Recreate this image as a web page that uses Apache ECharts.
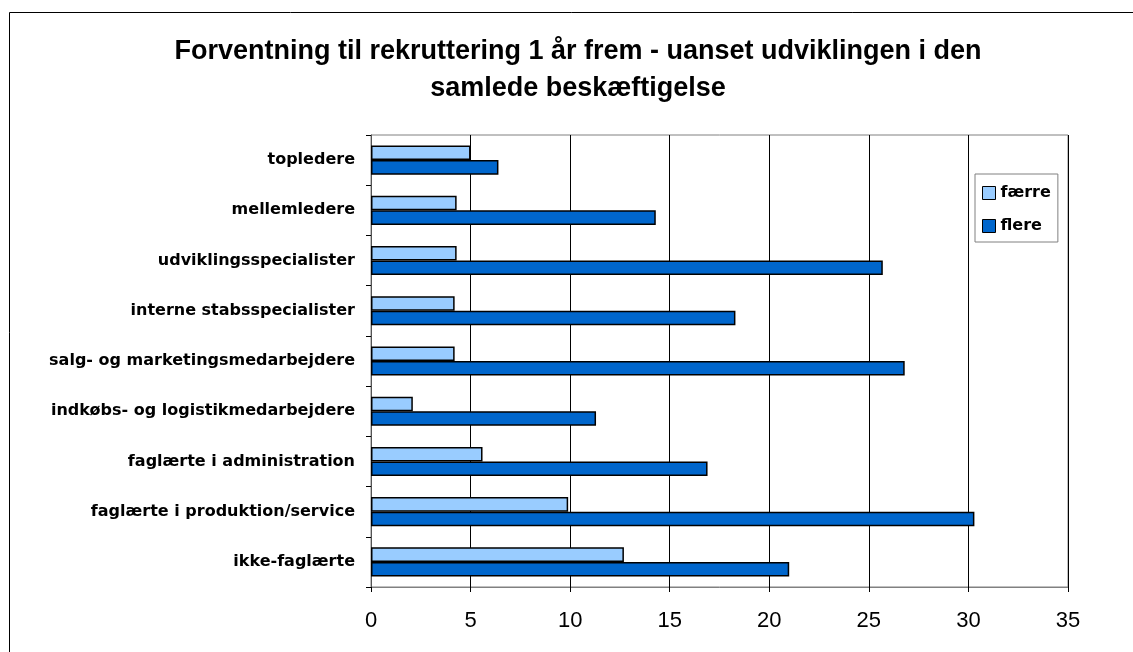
<!DOCTYPE html>
<html>
<head>
<meta charset="utf-8">
<script src="https://cdn.jsdelivr.net/npm/echarts@6/dist/echarts.min.js"></script>
<style>
  html, body { margin: 0; padding: 0; background: #fff; }
  #chart { width: 1133px; height: 652px; }
</style>
</head>
<body>
<div id="chart"></div>
<script>
// kategorier oppefra og ned
const categories = [
  'topledere',
  'mellemledere',
  'udviklingsspecialister',
  'interne stabsspecialister',
  'salg- og marketingsmedarbejdere',
  'indkøbs- og logistikmedarbejdere',
  'faglærte i administration',
  'faglærte i produktion/service',
  'ikke-faglærte'
]
const faerre = [5.0, 4.3, 4.3, 4.2, 4.2, 2.1, 5.6, 9.9, 12.7]
const flere = [6.4, 14.3, 25.7, 18.3, 26.8, 11.3, 16.9, 30.3, 21.0]
const seriesNames = ['færre', 'flere']
const xTicks = { min: 0, max: 35, interval: 5 }
const titleText = 'Forventning til rekruttering 1 år frem - uanset udviklingen i den\nsamlede beskæftigelse'

const chart = echarts.init(document.getElementById('chart'))

const option = {
  animation: false,
  backgroundColor: '#fff',
  graphic: [
    {
      type: 'rect',
      shape: { x: 9.5, y: 12.5, width: 1200, height: 700 },
      style: { fill: 'none', stroke: '#000', lineWidth: 1 },
      silent: true
    },
    {
      // titel, centreret lidt til højre som i originalen
      type: 'text',
      x: 578,
      y: 33,
      style: {
        text: titleText,
        fontFamily: 'Arial',
        fontWeight: 'bold',
        fontSize: 27,
        lineHeight: 37,
        align: 'center',
        verticalAlign: 'top',
        fill: '#000'
      }
    }
  ],
  legend: {
    orient: 'vertical',
    left: 975,
    top: 174,
    padding: [11, 7, 8, 7],
    itemWidth: 13,
    itemHeight: 13,
    itemGap: 17,
    icon: 'rect',
    borderColor: '#808080',
    borderWidth: 1,
    data: seriesNames,
    itemStyle: { borderColor: '#000', borderWidth: 1 },
    textStyle: {
      fontFamily: 'DejaVu Sans',
      fontWeight: 'bold',
      fontSize: 16,
      lineHeight: 16,
      color: '#000'
    }
  },
  grid: {
    left: 371,
    right: 65,
    top: 135,
    bottom: 65,
    show: true,
    borderColor: '#808080',
    borderWidth: 1
  },
  xAxis: {
    type: 'value',
    min: xTicks.min,
    max: xTicks.max,
    interval: xTicks.interval,
    axisLine: { show: true, lineStyle: { color: '#808080' } },
    axisTick: { show: true, length: 5, lineStyle: { color: '#000' } },
    axisLabel: {
      fontFamily: 'Arial',
      fontSize: 22,
      color: '#000',
      margin: 23
    },
    splitLine: { show: true, lineStyle: { color: '#000', width: 1 } }
  },
  yAxis: {
    type: 'category',
    inverse: true,
    data: categories,
    axisLine: { show: true, lineStyle: { color: '#555' } },
    axisTick: { show: true, length: 5, lineStyle: { color: '#000' } },
    axisLabel: {
      fontFamily: 'DejaVu Sans',
      fontWeight: 'bold',
      fontSize: 16,
      color: '#000',
      margin: 16
    },
    splitLine: { show: false }
  },
  series: [
    {
      name: seriesNames[0],
      type: 'bar',
      data: faerre,
      barGap: '0%',
      barCategoryGap: '42%',
      itemStyle: { color: '#99CCFF', borderColor: '#000', borderWidth: 1.5 }
    },
    {
      name: seriesNames[1],
      type: 'bar',
      data: flere,
      barGap: '0%',
      barCategoryGap: '42%',
      itemStyle: { color: '#0066CC', borderColor: '#000', borderWidth: 1.5 }
    }
  ]
}

chart.setOption(option)
</script>
</body>
</html>
